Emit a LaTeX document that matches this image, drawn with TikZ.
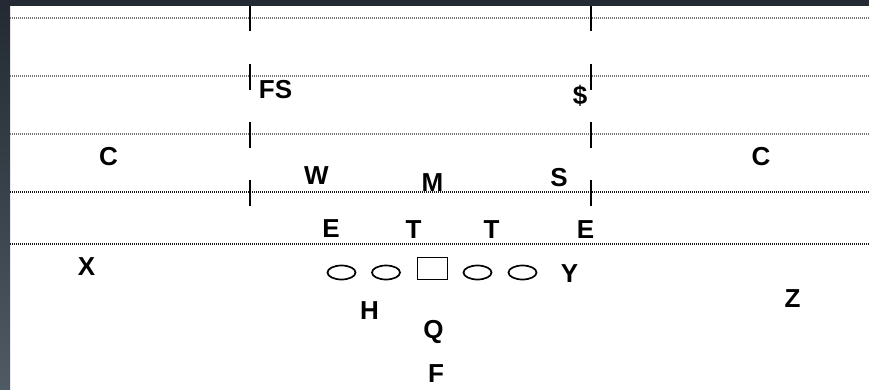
\documentclass[tikz,border=0pt]{standalone}
\usepackage{fontspec}
\setmainfont{Liberation Sans}
\usetikzlibrary{shapes.geometric}
\begin{document}
\begin{tikzpicture}[x=1pt,y=-1pt,
  player/.style={font=\fontsize{26}{27}\selectfont\bfseries, inner sep=0pt, anchor=base},
  lineman/.style={draw=black, line width=1.7pt, ellipse, minimum width=28pt, minimum height=14pt, inner sep=0pt},
  snapbox/.style={draw=black, line width=1.7pt, rectangle, minimum width=30pt, minimum height=22pt, inner sep=0pt},
  yardline/.style={line width=1.1pt, dash pattern=on 1pt off 1pt},
  hash/.style={line width=1.5pt, black}]
\useasboundingbox (0,0) rectangle (869,390);
\fill[white] (0,0) rectangle (869,390);
\definecolor{framedark}{HTML}{232A33}
\definecolor{framelight}{HTML}{4F5A64}
% frame
\shade[top color=framedark, bottom color=framelight] (0,0) rectangle (10,390);
\fill[framedark] (0,0) rectangle (869,6);
% yard lines
\foreach \yy in {18,76,134} \draw[yardline, black!55] (10,\yy) -- (869,\yy);
\foreach \yy in {192,244} \draw[yardline, black!90] (10,\yy) -- (869,\yy);
% hash marks
\draw[hash] (250,6) -- (250,31);
\draw[hash] (591,6) -- (591,31);
\foreach \yy in {76,134,192} {
  \draw[hash] (250,\yy-12) -- (250,\yy+14);
  \draw[hash] (591,\yy-12) -- (591,\yy+14);
}
% defense
\node[player] (FS) at (275.5,99) {FS};
\node[player] (SS) at (580,105) {\$};
\node[player] (CL) at (108.5,166) {C};
\node[player] (CR) at (761,166) {C};
\node[player] (W) at (316.5,185) {W};
\node[player] (M) at (432.5,191) {M};
\node[player] (S) at (559,186) {S};
\node[player] (EL) at (331,237.5) {E};
\node[player] (TL) at (413.5,238) {T};
\node[player] (TR) at (491.5,238) {T};
\node[player] (ER) at (585.5,238) {E};
% offense
\node[lineman] (LT) at (341.5,272.5) {};
\node[lineman] (LG) at (386,272.5) {};
\node[snapbox] (OC) at (432.5,268.5) {};
\node[lineman] (RG) at (477.5,272.5) {};
\node[lineman] (RT) at (522.5,272.5) {};
\node[player] (X) at (86.5,275) {X};
\node[player] (Y) at (569.5,282) {Y};
\node[player] (H) at (369.5,319) {H};
\node[player] (Q) at (433.5,338) {Q};
\node[player] (Z) at (792.5,307) {Z};
\node[player] (F) at (436,382) {F};
\end{tikzpicture}
\end{document}
